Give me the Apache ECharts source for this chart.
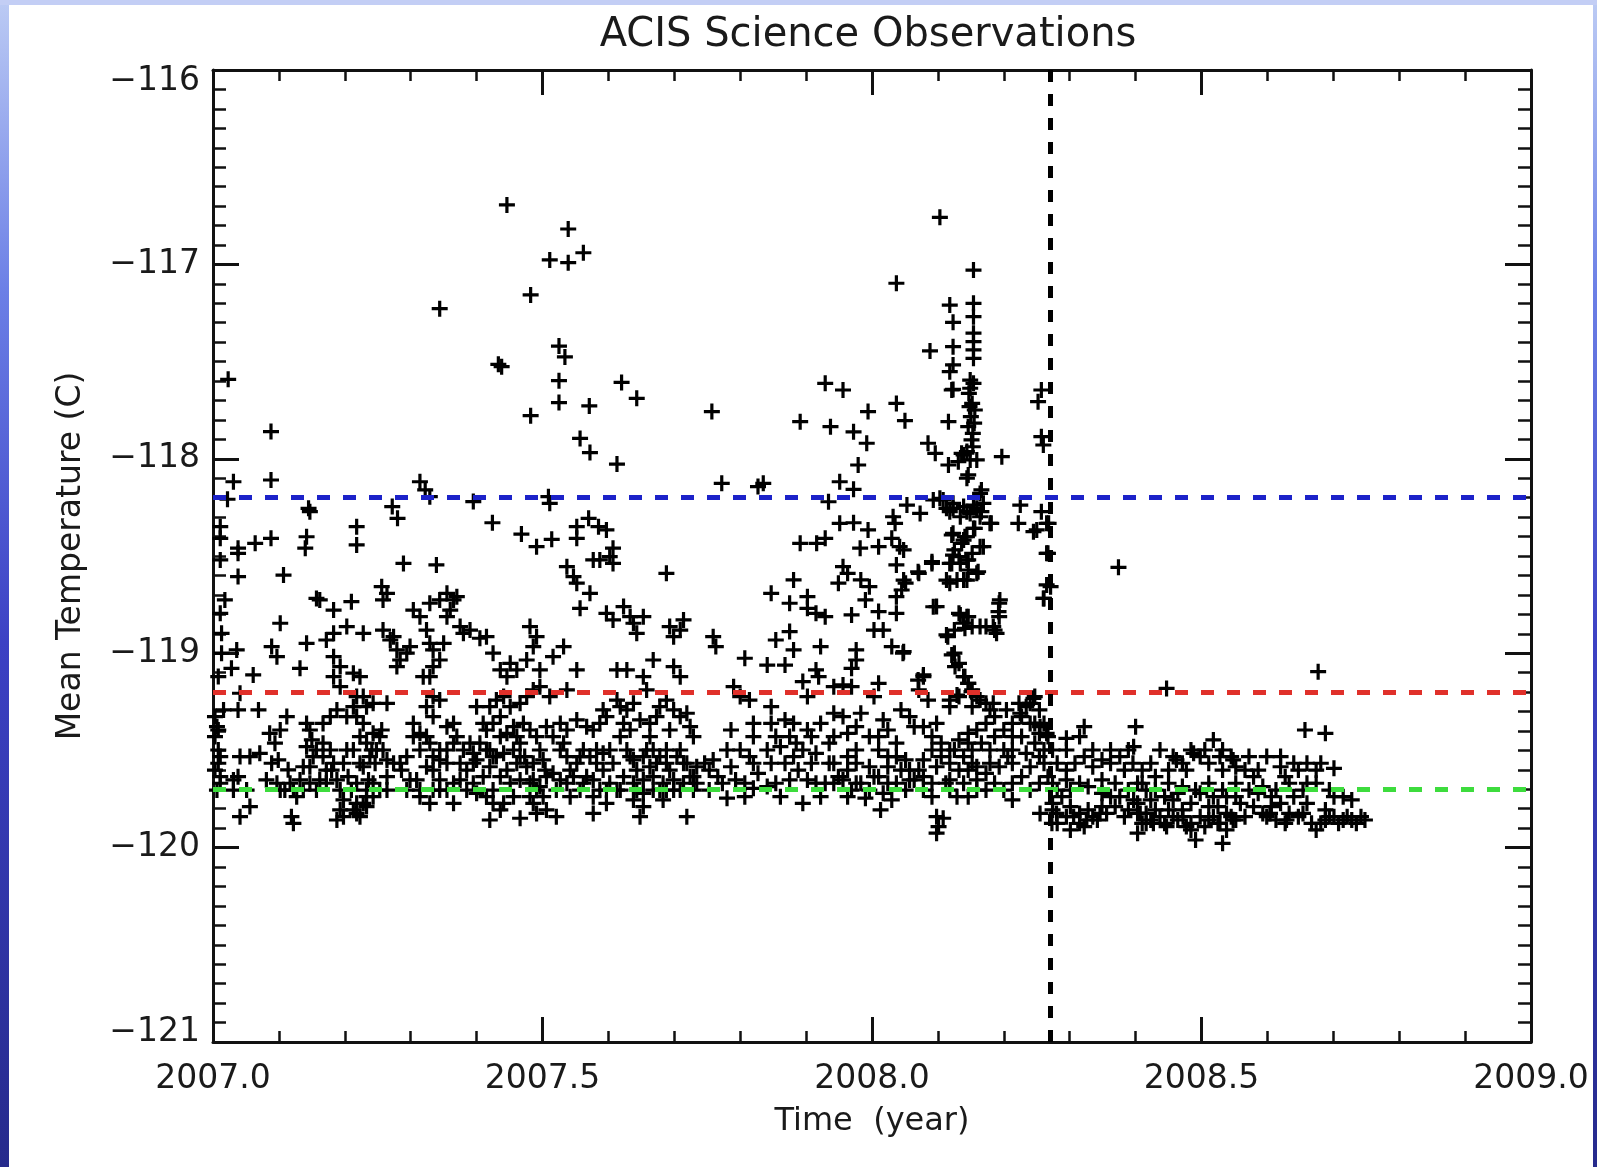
<!DOCTYPE html>
<html>
<head>
<meta charset="utf-8">
<title>ACIS Science Observations</title>
<script src="https://cdn.jsdelivr.net/npm/echarts@6/dist/echarts.min.js"></script>
<style>
  html, body { margin: 0; padding: 0; background: #ffffff; }
  #chart { width: 1597px; height: 1167px; }
</style>
</head>
<body>
<div id="chart"></div>
<script>
// Axis ranges and tick spacing
const X_MIN = 2007.0, X_MAX = 2009.0, X_STEP = 0.5;
const Y_MIN = -121, Y_MAX = -116, Y_STEP = 1;

// Reference levels (deg C) and the date marker (year)
const levelBlue = -118.2;
const levelRed = -119.2;
const levelGreen = -119.7;
const markerYear = 2008.268;

// Mean focal-plane temperature per observation: [year, deg C]
const seg2007a = [
  [2007.023,-117.591],[2007.088,-117.860],[2007.088,-118.109],[2007.031,-118.118],[2007.022,-118.208],
  [2007.011,-118.349],[2007.145,-118.255],[2007.147,-118.272],[2007.218,-118.349],[2007.218,-118.443],
  [2007.142,-118.401],[2007.140,-118.460],[2007.088,-118.409],[2007.064,-118.435],[2007.038,-118.460],
  [2007.011,-118.409],[2007.011,-118.520],[2007.038,-118.486],[2007.038,-118.606],[2007.018,-118.726],
  [2007.011,-118.795],[2007.013,-118.898],[2007.036,-118.983],[2007.013,-119.000],[2007.028,-119.078],
  [2007.008,-119.120],[2007.041,-119.206],[2007.038,-119.292],[2007.016,-119.292],[2007.008,-119.395],
  [2007.011,-119.532],[2007.008,-119.566],[2007.041,-119.532],[2007.056,-119.532],[2007.071,-119.515],
  [2007.038,-119.635],[2007.031,-119.652],[2007.011,-119.669],[2007.006,-119.704],[2007.041,-119.841],
  [2007.056,-119.789],[2007.069,-119.292],[2007.061,-119.112],[2007.102,-118.846],[2007.107,-118.598],
  [2007.089,-118.966],[2007.097,-119.018],[2007.112,-119.326],[2007.102,-119.395],[2007.086,-119.412],
  [2007.094,-119.463],[2007.099,-119.549],[2007.089,-119.566],[2007.081,-119.652],[2007.097,-119.669],
  [2007.102,-119.704],[2007.031,-119.704],[2007.051,-119.704],[2007.122,-119.875],[2007.119,-119.841],
  [2007.114,-119.600],[2007.117,-119.669],[2007.109,-119.704],[2007.132,-119.652],[2007.137,-119.704],
  [2007.127,-119.738],[2007.147,-119.584],[2007.152,-119.532],[2007.142,-119.481],[2007.150,-119.446],
  [2007.157,-119.498],[2007.167,-119.532],[2007.178,-119.498],[2007.183,-119.566],[2007.172,-119.601],
  [2007.162,-119.652],[2007.157,-119.704],[2007.172,-119.669],[2007.188,-119.652],[2007.193,-119.704],
  [2007.198,-119.755],[2007.193,-119.806],[2007.188,-119.858],[2007.198,-119.841],[2007.213,-119.806],
  [2007.218,-119.772],[2007.223,-119.841],[2007.142,-119.361],[2007.147,-119.395],[2007.167,-119.361],
  [2007.178,-119.326],[2007.188,-119.292],[2007.203,-119.326],[2007.213,-119.275],[2007.218,-119.223],
  [2007.193,-119.172],[2007.183,-119.121],[2007.193,-119.069],[2007.183,-119.018],[2007.172,-118.932],
  [2007.183,-118.898],[2007.203,-118.863],[2007.228,-118.898],[2007.142,-118.949],[2007.132,-119.078],
  [2007.162,-118.726],[2007.157,-118.718],[2007.183,-118.778],[2007.210,-118.735],[2007.218,-119.669],
  [2007.233,-119.704],[2007.243,-119.669],[2007.233,-119.738],[2007.228,-119.772],[2007.228,-119.584],
  [2007.238,-119.532],[2007.248,-119.498],[2007.233,-119.463],[2007.223,-119.429],[2007.243,-119.412],
  [2007.228,-119.361],[2007.218,-119.326],[2007.233,-119.275],[2007.243,-119.258],[2007.228,-119.223],
  [2007.223,-119.121],[2007.213,-119.103],
  [2007.003,-119.326],[2007.006,-119.378],[2007.003,-119.429],[2007.008,-119.498],[2007.003,-119.601],
  [2007.011,-119.635],[2007.122,-119.704],[2007.137,-119.584],[2007.147,-119.669],[2007.167,-119.463],
  [2007.180,-119.601],[2007.198,-119.566],[2007.203,-119.498],[2007.205,-119.635],[2007.210,-119.704],
  [2007.213,-119.498],[2007.223,-119.566],[2007.236,-119.652],[2007.241,-119.498],[2007.246,-119.566],
  [2007.243,-119.738],[2007.218,-119.824],[2007.233,-119.789]
];

const seg2007b = [
  [2007.253,-119.704],[2007.264,-119.704],[2007.256,-119.395],[2007.264,-119.258],[2007.258,-118.881],
  [2007.269,-118.932],[2007.279,-118.983],[2007.284,-119.035],[2007.279,-119.069],[2007.294,-119.000],
  [2007.299,-118.966],[2007.274,-118.915],[2007.264,-118.692],[2007.258,-118.726],[2007.256,-118.658],
  [2007.289,-118.538],[2007.286,-119.601],[2007.294,-119.532],[2007.284,-119.566],[2007.299,-119.652],
  [2007.294,-119.704],[2007.274,-119.566],[2007.264,-119.549],[2007.344,-117.228],[2007.314,-118.118],
  [2007.322,-118.160],[2007.329,-118.195],[2007.395,-118.220],[2007.424,-118.329],[2007.272,-118.246],
  [2007.280,-118.306],[2007.468,-118.387],[2007.446,-116.694],[2007.482,-117.157],[2007.433,-117.514],
  [2007.438,-117.526],[2007.482,-117.778],[2007.491,-118.452],
  [2007.304,-118.778],[2007.314,-118.812],[2007.324,-118.881],[2007.334,-118.983],[2007.344,-119.035],
  [2007.329,-118.949],[2007.350,-118.949],[2007.334,-119.069],[2007.329,-119.121],[2007.319,-119.121],
  [2007.329,-118.743],[2007.344,-118.726],[2007.355,-118.692],[2007.365,-118.726],[2007.360,-118.778],
  [2007.370,-118.709],[2007.355,-118.812],[2007.375,-118.863],[2007.380,-118.898],[2007.390,-118.881],
  [2007.405,-118.923],[2007.339,-118.546],[2007.304,-119.361],[2007.314,-119.412],[2007.324,-119.275],
  [2007.334,-119.223],[2007.344,-119.241],[2007.334,-119.326],[2007.324,-119.429],[2007.329,-119.463],
  [2007.334,-119.532],[2007.344,-119.549],[2007.355,-119.498],[2007.365,-119.463],[2007.370,-119.429],
  [2007.355,-119.378],[2007.365,-119.361],[2007.344,-119.652],[2007.355,-119.704],[2007.375,-119.652],
  [2007.385,-119.704],[2007.395,-119.669],[2007.400,-119.721],[2007.309,-119.652],[2007.314,-119.704],
  [2007.334,-119.704],[2007.400,-119.549],[2007.395,-119.515],[2007.405,-119.463],[2007.410,-119.361],
  [2007.415,-119.395],[2007.400,-119.275],[2007.415,-118.915],
  [2007.425,-119.000],[2007.436,-119.086],[2007.446,-119.121],[2007.451,-119.052],[2007.461,-119.086],
  [2007.476,-119.035],[2007.486,-118.966],[2007.491,-118.915],[2007.481,-118.863],[2007.496,-119.086],
  [2007.420,-119.275],[2007.430,-119.241],[2007.441,-119.223],[2007.451,-119.275],[2007.466,-119.258],
  [2007.476,-119.223],[2007.486,-119.189],[2007.496,-119.172],[2007.425,-119.361],[2007.436,-119.326],
  [2007.446,-119.412],[2007.461,-119.429],[2007.471,-119.361],[2007.481,-119.395],[2007.491,-119.429],
  [2007.415,-119.498],[2007.425,-119.532],[2007.441,-119.515],[2007.456,-119.498],[2007.466,-119.532],
  [2007.476,-119.584],[2007.486,-119.566],[2007.436,-119.635],[2007.451,-119.669],[2007.466,-119.652],
  [2007.481,-119.669],[2007.496,-119.686],[2007.425,-119.704],[2007.415,-119.738],[2007.441,-119.772],
  [2007.456,-119.738],[2007.486,-119.772],[2007.420,-119.858],[2007.466,-119.849],[2007.436,-119.806],
  [2007.491,-119.824],
  [2007.253,-119.429],[2007.258,-119.498],[2007.264,-119.635],[2007.304,-119.429],[2007.314,-119.498],
  [2007.324,-119.584],[2007.334,-119.601],[2007.344,-119.498],[2007.355,-119.566],[2007.365,-119.669],
  [2007.375,-119.566],[2007.380,-119.498],[2007.385,-119.601],[2007.390,-119.463],[2007.395,-119.566],
  [2007.314,-119.738],[2007.329,-119.772],[2007.365,-119.772],[2007.344,-119.704],[2007.410,-119.635],
  [2007.420,-119.584],[2007.430,-119.532],[2007.446,-119.601],[2007.461,-119.566],[2007.473,-119.532],
  [2007.486,-119.652],[2007.491,-119.704],[2007.420,-119.498],[2007.436,-119.429],[2007.456,-119.378],
  [2007.466,-119.463],[2007.496,-119.498],[2007.425,-119.772],[2007.481,-119.738]
];

const seg2007c = [
  [2007.539,-116.818],[2007.511,-116.977],[2007.539,-116.991],[2007.562,-116.940],[2007.525,-117.420],
  [2007.534,-117.476],[2007.525,-117.598],[2007.525,-117.711],[2007.620,-117.607],[2007.643,-117.689],
  [2007.571,-117.728],[2007.557,-117.895],[2007.572,-117.968],[2007.613,-118.027],[2007.509,-118.195],
  [2007.511,-118.229],[2007.552,-118.349],[2007.552,-118.409],[2007.570,-118.306],[2007.585,-118.349],
  [2007.597,-118.366],[2007.514,-118.414],[2007.607,-118.460],
  [2007.506,-119.378],[2007.501,-119.549],[2007.501,-119.738],[2007.511,-119.223],[2007.516,-119.018],
  [2007.532,-118.966],[2007.537,-119.189],[2007.552,-119.086],[2007.537,-118.555],[2007.547,-118.606],
  [2007.552,-118.640],[2007.572,-118.692],[2007.577,-118.520],[2007.587,-118.520],[2007.602,-118.503],
  [2007.607,-118.538],[2007.557,-118.769],[2007.597,-118.795],[2007.607,-118.829],[2007.623,-118.760],
  [2007.633,-118.812],[2007.613,-119.086],[2007.527,-119.361],[2007.537,-119.395],[2007.552,-119.343],
  [2007.567,-119.378],[2007.577,-119.395],[2007.587,-119.361],[2007.592,-119.292],[2007.597,-119.326],
  [2007.613,-119.241],[2007.618,-119.275],[2007.527,-119.498],[2007.537,-119.532],[2007.552,-119.566],
  [2007.562,-119.498],[2007.572,-119.532],[2007.582,-119.566],[2007.592,-119.515],[2007.602,-119.498],
  [2007.516,-119.618],[2007.527,-119.652],[2007.547,-119.635],[2007.562,-119.669],[2007.577,-119.652],
  [2007.587,-119.704],[2007.602,-119.669],[2007.577,-119.738],[2007.597,-119.772],[2007.577,-119.824],
  [2007.521,-119.841],[2007.613,-119.704],
  [2007.638,-118.846],[2007.653,-118.812],[2007.643,-118.898],[2007.628,-119.086],[2007.653,-119.121],
  [2007.658,-119.189],[2007.668,-119.035],[2007.688,-118.589],[2007.693,-118.863],[2007.699,-118.915],
  [2007.709,-118.881],[2007.714,-118.829],[2007.699,-119.069],[2007.709,-119.121],[2007.628,-119.292],
  [2007.638,-119.258],[2007.623,-119.361],[2007.633,-119.395],[2007.648,-119.343],[2007.663,-119.361],
  [2007.673,-119.326],[2007.678,-119.275],[2007.688,-119.241],[2007.699,-119.292],[2007.709,-119.326],
  [2007.719,-119.309],[2007.724,-119.378],[2007.729,-119.429],[2007.628,-119.498],[2007.638,-119.549],
  [2007.653,-119.532],[2007.668,-119.498],[2007.678,-119.532],[2007.688,-119.566],[2007.704,-119.532],
  [2007.719,-119.566],[2007.734,-119.584],[2007.623,-119.635],[2007.638,-119.669],[2007.653,-119.652],
  [2007.668,-119.635],[2007.683,-119.669],[2007.699,-119.652],[2007.714,-119.669],[2007.729,-119.635],
  [2007.653,-119.721],[2007.678,-119.704],[2007.699,-119.704],[2007.653,-119.789],[2007.719,-119.841],
  [2007.648,-119.841],
  [2007.504,-119.601],[2007.506,-119.635],[2007.506,-119.806],[2007.516,-119.429],[2007.532,-119.463],
  [2007.542,-119.601],[2007.557,-119.532],[2007.567,-119.635],[2007.582,-119.498],[2007.592,-119.601],
  [2007.607,-119.566],[2007.521,-119.704],[2007.542,-119.738],[2007.557,-119.704],[2007.597,-119.704],
  [2007.537,-119.669],[2007.618,-119.429],[2007.633,-119.532],[2007.643,-119.601],[2007.658,-119.498],
  [2007.663,-119.584],[2007.673,-119.566],[2007.688,-119.498],[2007.693,-119.601],[2007.709,-119.498],
  [2007.714,-119.566],[2007.724,-119.635],[2007.734,-119.669],[2007.618,-119.704],[2007.643,-119.704],
  [2007.668,-119.704],[2007.688,-119.704],[2007.709,-119.704],[2007.729,-119.704],[2007.638,-119.755],
  [2007.683,-119.755],[2007.663,-119.429],[2007.693,-119.395]
];

const seg2007d = [
  [2007.757,-117.757],[2007.929,-117.612],[2007.956,-117.646],[2007.891,-117.809],[2007.937,-117.835],
  [2007.972,-117.861],[2007.992,-117.920],[2007.994,-117.757],[2007.979,-118.032],[2007.772,-118.126],
  [2007.827,-118.143],[2007.835,-118.126],[2007.951,-118.118],[2007.972,-118.157],[2007.934,-118.221],
  [2007.951,-118.332],[2007.972,-118.329],[2007.994,-118.366],[2007.891,-118.435],[2007.916,-118.435],
  [2007.929,-118.409],[2007.982,-118.460],
  [2007.759,-118.915],[2007.763,-118.966],[2007.807,-119.026],[2007.746,-119.566],[2007.759,-119.549],
  [2007.753,-119.601],[2007.773,-119.669],[2007.793,-119.652],[2007.800,-119.498],[2007.820,-119.566],
  [2007.814,-119.532],[2007.820,-119.361],[2007.820,-119.429],[2007.790,-119.172],[2007.800,-119.223],
  [2007.814,-119.241],[2007.847,-119.275],[2007.847,-118.692],[2007.881,-118.623],[2007.875,-118.743],
  [2007.902,-118.769],[2007.915,-118.795],[2007.929,-118.812],[2007.902,-118.709],[2007.854,-118.932],
  [2007.881,-118.983],[2007.875,-118.889],[2007.841,-119.061],[2007.868,-119.061],[2007.922,-118.966],
  [2007.895,-119.146],[2007.902,-119.223],[2007.919,-119.121],[2007.847,-119.361],[2007.868,-119.343],
  [2007.881,-119.361],[2007.902,-119.395],[2007.922,-119.361],[2007.868,-119.566],[2007.881,-119.532],
  [2007.895,-119.498],[2007.908,-119.566],[2007.915,-119.515],[2007.935,-119.463],[2007.875,-119.652],
  [2007.902,-119.652],[2007.929,-119.669],[2007.949,-119.635],[2007.895,-119.772],[2007.875,-119.429],
  [2007.885,-119.463],[2007.753,-119.704],[2007.820,-119.695],[2007.841,-119.686],[2007.780,-119.746],
  [2007.861,-119.738],
  [2007.956,-118.555],[2007.963,-118.589],[2007.983,-118.623],[2007.996,-118.658],[2007.949,-118.640],
  [2007.990,-118.726],[2007.969,-118.803],[2007.976,-118.983],[2007.976,-119.035],[2007.969,-119.078],
  [2007.956,-119.163],[2007.969,-119.172],[2007.915,-119.086],[2007.942,-119.172],[2007.956,-119.326],
  [2007.976,-119.378],[2007.983,-119.309],[2007.942,-119.309],[2007.942,-119.429],[2007.963,-119.412],
  [2007.996,-119.429],[2007.963,-119.532],[2007.976,-119.566],[2007.942,-119.566],[2007.996,-119.584],
  [2007.956,-119.652],[2007.976,-119.669],[2007.969,-119.704],[2007.996,-119.704],[2007.990,-119.746],
  [2007.766,-119.635],[2007.786,-119.584],[2007.807,-119.669],[2007.827,-119.618],[2007.847,-119.566],
  [2007.854,-119.669],[2007.888,-119.601],[2007.915,-119.669],[2007.935,-119.566],[2007.942,-119.669],
  [2007.963,-119.601],[2007.983,-119.669],[2007.780,-119.498],[2007.841,-119.498],[2007.861,-119.481],
  [2007.908,-119.429],[2007.976,-119.498],[2007.807,-119.738],[2007.922,-119.738],[2007.963,-119.738],
  [2007.854,-119.429],[2007.786,-119.395]
];

const seg2008a = [
  [2008.037,-117.715],[2008.050,-117.804],[2008.103,-116.758],[2008.154,-117.029],[2008.037,-117.097],
  [2008.118,-117.209],[2008.154,-117.200],[2008.154,-117.269],[2008.123,-117.298],[2008.154,-117.354],
  [2008.154,-117.397],[2008.154,-117.440],[2008.154,-117.483],[2008.088,-117.445],[2008.123,-117.423],
  [2008.123,-117.517],[2008.118,-117.552],[2008.149,-117.595],[2008.154,-117.612],[2008.149,-117.637],
  [2008.123,-117.643],[2008.152,-117.715],[2008.156,-117.749],[2008.150,-117.783],[2008.155,-117.817],
  [2008.153,-117.869],[2008.151,-117.903],[2008.153,-117.938],[2008.116,-117.809],[2008.085,-117.920],
  [2008.096,-117.972],[2008.116,-118.032],[2008.139,-117.980],[2008.159,-118.006],[2008.197,-117.989],
  [2008.146,-118.083],[2008.144,-118.100],[2008.257,-117.646],[2008.252,-117.706],[2008.257,-117.886],
  [2008.260,-117.929],[2008.103,-118.203],[2008.113,-118.255],[2008.123,-118.255],[2008.139,-118.246],
  [2008.144,-118.272],[2008.159,-118.255],[2008.166,-118.160],[2008.169,-118.229],[2008.166,-118.272],
  [2008.053,-118.238],[2008.073,-118.281],[2008.225,-118.238],[2008.222,-118.332],[2008.257,-118.272],
  [2008.268,-118.332],[2008.250,-118.366],[2008.181,-118.332],[2008.032,-118.298],[2008.035,-118.332],
  [2008.030,-118.409],[2008.042,-118.452],[2008.123,-118.383],[2008.141,-118.401],[2008.156,-118.358],
  [2008.139,-118.418],[2008.010,-118.452],[2008.169,-118.452],
  [2008.147,-117.663],[2008.148,-117.732],[2008.146,-117.835],[2008.144,-117.963],[2008.149,-118.006],
  [2008.121,-117.646],[2008.136,-117.972],[2008.131,-118.015],[2008.164,-118.178],[2008.093,-118.212],
  [2008.108,-118.212],[2008.123,-118.229],[2008.154,-118.238],[2008.118,-118.272],[2008.134,-118.298],
  [2008.149,-118.281],[2008.164,-118.298],[2008.179,-118.332],[2008.245,-118.375],[2008.265,-118.332],
  [2008.121,-118.392],[2008.144,-118.401],[2008.136,-118.435],[2008.154,-118.358],[2008.164,-118.452],
  [2008.123,-118.495],[2008.144,-118.521],[2008.121,-118.538],[2008.134,-118.538],[2008.161,-118.581],
  [2008.113,-118.624],[2008.129,-118.624],[2008.144,-118.624],[2008.091,-118.529],[2008.070,-118.581],
  [2008.048,-118.469],[2008.048,-118.624],[2008.045,-118.675],[2008.265,-118.486],[2008.265,-118.649],
  [2008.260,-118.718],[2008.093,-118.761],[2008.194,-118.726],[2008.192,-118.786],[2008.134,-118.803],
  [2008.144,-118.812],[2008.141,-118.872],[2008.164,-118.863],[2008.184,-118.863],[2008.189,-118.898],
  [2008.113,-118.906],[2008.048,-118.992],[2008.121,-119.009],[2008.126,-119.069],[2008.141,-119.121],
  [2008.146,-119.155],[2008.078,-119.112],[2008.070,-119.138],[2008.245,-119.232],[2008.118,-119.241],
  [2008.129,-119.215],[2008.151,-119.198],[2008.164,-119.241],[2008.184,-119.258],[2008.204,-119.292],
  [2008.225,-119.309],[2008.240,-119.361],[2008.255,-119.378],[2008.265,-119.412],
  [2008.010,-118.786],[2008.003,-118.881],[2008.017,-118.881],[2008.030,-118.966],[2008.047,-119.000],
  [2008.037,-118.795],[2008.037,-118.709],[2008.051,-118.640],[2008.037,-118.546],[2008.071,-118.589],
  [2008.091,-118.538],[2008.010,-119.155],[2008.003,-119.223],[2008.017,-119.343],[2008.024,-119.395],
  [2008.044,-119.292],[2008.057,-119.326],[2008.064,-119.378],[2008.010,-119.498],[2008.024,-119.532],
  [2008.037,-119.463],[2008.051,-119.549],[2008.010,-119.635],[2008.024,-119.669],[2008.044,-119.601],
  [2008.057,-119.652],[2008.017,-119.721],[2008.013,-119.806],[2008.051,-119.704],
  [2008.125,-118.469],[2008.132,-118.503],[2008.118,-118.538],[2008.146,-118.572],[2008.159,-118.589],
  [2008.139,-118.623],[2008.118,-118.640],[2008.146,-118.520],[2008.152,-118.486],[2008.132,-118.795],
  [2008.146,-118.812],[2008.139,-118.846],[2008.152,-118.863],[2008.125,-118.881],[2008.173,-118.863],
  [2008.186,-118.881],[2008.193,-118.743],[2008.193,-118.812],[2008.115,-118.915],[2008.098,-118.760],
  [2008.125,-119.000],[2008.132,-119.052],[2008.139,-119.121],[2008.146,-119.155],[2008.152,-119.189],
  [2008.159,-119.223],[2008.173,-119.258],[2008.152,-119.275],[2008.179,-119.292],[2008.186,-119.326],
  [2008.173,-119.361],[2008.159,-119.395],[2008.146,-119.412],[2008.132,-119.446],[2008.125,-119.498],
  [2008.139,-119.532],[2008.152,-119.498],[2008.166,-119.463],[2008.186,-119.429],[2008.200,-119.395],
  [2008.213,-119.361],[2008.227,-119.326],[2008.240,-119.258],[2008.254,-119.292],[2008.261,-119.361],
  [2008.267,-119.429],[2008.213,-119.498],[2008.206,-119.532],[2008.179,-119.566],[2008.159,-119.584],
  [2008.146,-119.601],[2008.118,-119.566],[2008.105,-119.532],[2008.091,-119.498],[2008.078,-119.549],
  [2008.071,-119.601],[2008.064,-119.652],[2008.091,-119.669],[2008.118,-119.652],[2008.139,-119.669],
  [2008.159,-119.652],[2008.186,-119.669],[2008.213,-119.669],[2008.227,-119.635],[2008.240,-119.584],
  [2008.254,-119.532],[2008.261,-119.498],[2008.213,-119.755],[2008.173,-119.704],[2008.200,-119.704],
  [2008.129,-119.738],[2008.098,-119.841],[2008.101,-119.892],[2008.098,-119.926],[2008.108,-119.849],
  [2008.078,-119.121],[2008.085,-119.241],[2008.071,-119.189],[2008.078,-119.378],[2008.098,-119.361],
  [2008.118,-119.275],[2008.132,-119.223],[2008.091,-119.429],[2008.247,-119.223],[2008.234,-119.275],
  [2008.223,-119.258],[2008.255,-119.824],[2008.267,-118.486],[2008.271,-118.658],[2008.261,-118.718],
  [2008.003,-119.635],[2008.024,-119.584],[2008.037,-119.669],[2008.057,-119.601],[2008.010,-119.429],
  [2008.037,-119.532],[2008.030,-119.755],[2008.078,-119.635],[2008.098,-119.584],[2008.112,-119.669],
  [2008.132,-119.601],[2008.152,-119.566],[2008.173,-119.618],[2008.193,-119.584],[2008.213,-119.566],
  [2008.234,-119.515],[2008.247,-119.463],[2008.261,-119.566],[2008.267,-119.635],[2008.254,-119.669],
  [2008.240,-119.704],[2008.159,-119.704],[2008.118,-119.704],[2008.078,-119.704],[2008.091,-119.738],
  [2008.146,-119.738],[2008.200,-119.498],[2008.179,-119.498],[2008.146,-119.463],[2008.118,-119.498],
  [2008.105,-119.463],[2008.213,-119.429],[2008.227,-119.429],[2008.247,-119.361],[2008.254,-119.412]
];

const seg2008b = [
  [2008.374,-118.558],[2008.447,-119.181],[2008.677,-119.095],[2008.657,-119.395],[2008.688,-119.412],
  [2008.400,-119.378],[2008.295,-119.438],[2008.315,-119.429],[2008.322,-119.378],[2008.397,-119.481],
  [2008.462,-119.549],[2008.488,-119.515],[2008.528,-119.532],[2008.548,-119.549],
  [2008.274,-119.498],[2008.281,-119.566],[2008.295,-119.601],[2008.308,-119.566],[2008.322,-119.532],
  [2008.335,-119.584],[2008.349,-119.549],[2008.362,-119.566],[2008.376,-119.532],[2008.389,-119.498],
  [2008.396,-119.566],[2008.410,-119.601],[2008.423,-119.566],[2008.430,-119.635],[2008.457,-119.532],
  [2008.471,-119.566],[2008.484,-119.498],[2008.498,-119.532],[2008.511,-119.566],[2008.518,-119.446],
  [2008.532,-119.498],[2008.552,-119.584],[2008.566,-119.601],[2008.579,-119.635],[2008.599,-119.532],
  [2008.620,-119.584],[2008.640,-119.566],[2008.660,-119.566],[2008.674,-119.601],[2008.701,-119.592],
  [2008.274,-119.669],[2008.295,-119.652],[2008.315,-119.669],[2008.328,-119.686],[2008.349,-119.652],
  [2008.369,-119.669],[2008.389,-119.704],[2008.410,-119.669],[2008.430,-119.704],[2008.450,-119.669],
  [2008.471,-119.686],[2008.491,-119.704],[2008.511,-119.669],[2008.532,-119.704],[2008.552,-119.669],
  [2008.572,-119.704],[2008.593,-119.686],[2008.613,-119.704],[2008.633,-119.669],[2008.654,-119.704],
  [2008.674,-119.669],[2008.694,-119.704],
  [2008.274,-119.806],[2008.281,-119.875],[2008.295,-119.841],[2008.315,-119.824],[2008.335,-119.841],
  [2008.322,-119.892],[2008.301,-119.909],[2008.349,-119.789],[2008.403,-119.772],[2008.416,-119.824],
  [2008.410,-119.875],[2008.403,-119.926],[2008.423,-119.858],[2008.437,-119.841],[2008.450,-119.806],
  [2008.464,-119.858],[2008.477,-119.892],[2008.491,-119.961],[2008.498,-119.841],[2008.511,-119.858],
  [2008.525,-119.875],[2008.532,-119.978],[2008.538,-119.824],[2008.545,-119.841],[2008.457,-119.755],
  [2008.484,-119.772],[2008.511,-119.789],[2008.559,-119.772],[2008.579,-119.789],[2008.599,-119.841],
  [2008.620,-119.772],[2008.633,-119.824],[2008.647,-119.841],[2008.667,-119.875],[2008.674,-119.909],
  [2008.688,-119.858],[2008.701,-119.841],[2008.715,-119.858],[2008.728,-119.858],[2008.742,-119.841],
  [2008.688,-119.806],[2008.701,-119.738],[2008.728,-119.755],[2008.660,-119.772],[2008.586,-119.721],
  [2008.376,-119.738],[2008.423,-119.755],
  [2008.273,-119.875],[2008.280,-119.824],[2008.306,-119.841],[2008.326,-119.858],[2008.346,-119.824],
  [2008.397,-119.755],[2008.407,-119.824],[2008.427,-119.875],[2008.447,-119.892],[2008.472,-119.841],
  [2008.528,-119.875],[2008.548,-119.858],[2008.604,-119.824],[2008.629,-119.858],
  [2008.274,-119.772],[2008.288,-119.738],[2008.301,-119.789],[2008.315,-119.875],[2008.328,-119.806],
  [2008.342,-119.858],[2008.356,-119.824],[2008.369,-119.789],[2008.383,-119.841],[2008.389,-119.806],
  [2008.403,-119.824],[2008.416,-119.875],[2008.430,-119.806],[2008.444,-119.875],[2008.457,-119.841],
  [2008.471,-119.806],[2008.484,-119.875],[2008.484,-119.909],[2008.505,-119.892],[2008.518,-119.841],
  [2008.525,-119.789],[2008.538,-119.909],[2008.552,-119.858],[2008.566,-119.841],[2008.593,-119.824],
  [2008.606,-119.789],[2008.613,-119.858],[2008.627,-119.875],[2008.654,-119.824],[2008.681,-119.875],
  [2008.694,-119.841],[2008.708,-119.875],[2008.721,-119.841],[2008.735,-119.875],[2008.748,-119.858],
  [2008.281,-119.704],[2008.301,-119.704],[2008.349,-119.721],[2008.362,-119.738],[2008.403,-119.669],
  [2008.416,-119.704],[2008.444,-119.738],[2008.464,-119.721],[2008.498,-119.721],[2008.518,-119.738],
  [2008.538,-119.738],[2008.552,-119.738],[2008.606,-119.738],[2008.640,-119.738],[2008.660,-119.669],
  [2008.715,-119.738],[2008.295,-119.498],[2008.335,-119.498],[2008.362,-119.498],[2008.383,-119.601],
  [2008.437,-119.498],[2008.450,-119.601],[2008.477,-119.601],[2008.505,-119.498],[2008.532,-119.601],
  [2008.545,-119.532],[2008.572,-119.532],[2008.586,-119.601],[2008.620,-119.532],[2008.627,-119.635],
  [2008.681,-119.566],[2008.647,-119.601]
];

const observations = [].concat(seg2007a, seg2007b, seg2007c, seg2007d, seg2008a, seg2008b);

const FONT = 'DejaVu Sans';
const INK = '#111111';
// plus-shaped marker, 16 units across with 3.2-unit arms
const PLUS = 'path://M6.4,0H9.6V6.4H16V9.6H9.6V16H6.4V9.6H0V6.4H6.4Z';

const minus = v => (v < 0 ? '\u2212' : '') + Math.abs(v);

function frameAxis(extra) {
  return Object.assign({
    type: 'value',
    axisLine: { show: true, onZero: false, lineStyle: { color: INK, width: 3 } },
    axisTick: { show: true, inside: true, lineStyle: { color: INK, width: 3 } },
    minorTick: { show: true, lineStyle: { color: INK, width: 2.5 } },
    splitLine: { show: false },
    minorSplitLine: { show: false }
  }, extra);
}

const chart = echarts.init(document.getElementById('chart'), null, { renderer: 'canvas' });

chart.setOption({
  backgroundColor: '#ffffff',
  animation: false,
  textStyle: { fontFamily: FONT },
  title: {
    text: 'ACIS Science Observations',
    left: 868,
    top: 16,
    padding: 0,
    textAlign: 'center',
    textStyle: { fontFamily: FONT, fontSize: 40, fontWeight: 'normal', color: '#1a1a1a' }
  },
  graphic: [
    {
      type: 'rect', left: 0, top: 0, z: -10, silent: true,
      shape: { width: 9, height: 1167 },
      style: { fill: new echarts.graphic.LinearGradient(0, 0, 0, 1, [
        { offset: 0, color: '#bccbf4' }, { offset: 0.25, color: '#6b7fe6' },
        { offset: 0.55, color: '#3c41c4' }, { offset: 1, color: '#262a8c' }]) }
    },
    {
      type: 'rect', left: 1593, top: 0, z: -10, silent: true,
      shape: { width: 4, height: 1167 },
      style: { fill: new echarts.graphic.LinearGradient(0, 0, 0, 1, [
        { offset: 0, color: '#bccbf4' }, { offset: 0.25, color: '#6b7fe6' },
        { offset: 0.55, color: '#3c41c4' }, { offset: 1, color: '#262a8c' }]) }
    },
    {
      type: 'rect', left: 0, top: 0, z: -10, silent: true,
      shape: { width: 1597, height: 5 },
      style: { fill: '#c3cef5' }
    }
  ],
  grid: { left: 213, top: 70, right: 66, bottom: 125, containLabel: false },
  xAxis: [
    frameAxis({
      min: X_MIN, max: X_MAX, interval: X_STEP, position: 'bottom',
      name: 'Time  (year)', nameLocation: 'middle', nameGap: 64,
      nameTextStyle: { fontFamily: FONT, fontSize: 32, color: '#1a1a1a' },
      axisTick: { show: true, inside: true, length: 25, lineStyle: { color: INK, width: 3 } },
      minorTick: { show: true, splitNumber: 5, length: 11, lineStyle: { color: INK, width: 2.5 } },
      axisLabel: {
        show: true, margin: 21, fontFamily: FONT, fontSize: 33, color: '#1a1a1a',
        formatter: v => v.toFixed(1)
      }
    }),
    frameAxis({
      min: X_MIN, max: X_MAX, interval: X_STEP, position: 'top',
      axisTick: { show: true, inside: true, length: 25, lineStyle: { color: INK, width: 3 } },
      minorTick: { show: true, splitNumber: 5, length: 11, lineStyle: { color: INK, width: 2.5 } },
      axisLabel: { show: false }
    })
  ],
  yAxis: [
    frameAxis({
      min: Y_MIN, max: Y_MAX, interval: Y_STEP, position: 'left',
      name: 'Mean Temperature (C)', nameLocation: 'middle', nameGap: 125, nameRotate: 90,
      nameTextStyle: { fontFamily: FONT, fontSize: 33, color: '#1a1a1a' },
      axisTick: { show: true, inside: true, length: 26, lineStyle: { color: INK, width: 3 } },
      minorTick: { show: true, splitNumber: 10, length: 13, lineStyle: { color: INK, width: 2.5 } },
      axisLabel: {
        show: true, margin: 13, fontFamily: FONT, fontSize: 33, color: '#1a1a1a',
        formatter: v => {
          if (v === Y_MAX) return '{hi|' + minus(v) + '}';
          if (v === Y_MIN) return '{lo|' + minus(v) + '}';
          return minus(v);
        },
        rich: {
          hi: { fontFamily: FONT, fontSize: 33, color: '#1a1a1a', padding: [22, 0, 0, 0] },
          lo: { fontFamily: FONT, fontSize: 33, color: '#1a1a1a', padding: [0, 0, 20, 0] }
        }
      }
    }),
    frameAxis({
      min: Y_MIN, max: Y_MAX, interval: Y_STEP, position: 'right',
      axisTick: { show: true, inside: true, length: 26, lineStyle: { color: INK, width: 3 } },
      minorTick: { show: true, splitNumber: 10, length: 13, lineStyle: { color: INK, width: 2.5 } },
      axisLabel: { show: false }
    })
  ],
  series: [
    {
      type: 'scatter',
      xAxisIndex: 0,
      yAxisIndex: 0,
      data: observations,
      symbol: PLUS,
      symbolSize: 16,
      itemStyle: { color: '#000000', opacity: 1 },
      silent: true,
      markLine: {
        silent: true,
        symbol: ['none', 'none'],
        animation: false,
        label: { show: false },
        emphasis: { disabled: true },
        data: [
          { yAxis: levelBlue, lineStyle: { color: '#1c22c9', width: 5, type: [13, 13] } },
          { yAxis: levelRed, lineStyle: { color: '#e0302a', width: 5, type: [13, 13] } },
          { yAxis: levelGreen, lineStyle: { color: '#3ddc3d', width: 5, type: [13, 13] } },
          { xAxis: markerYear, lineStyle: { color: '#000000', width: 5, type: [12, 12] } }
        ]
      }
    }
  ]
});
</script>
</body>
</html>
